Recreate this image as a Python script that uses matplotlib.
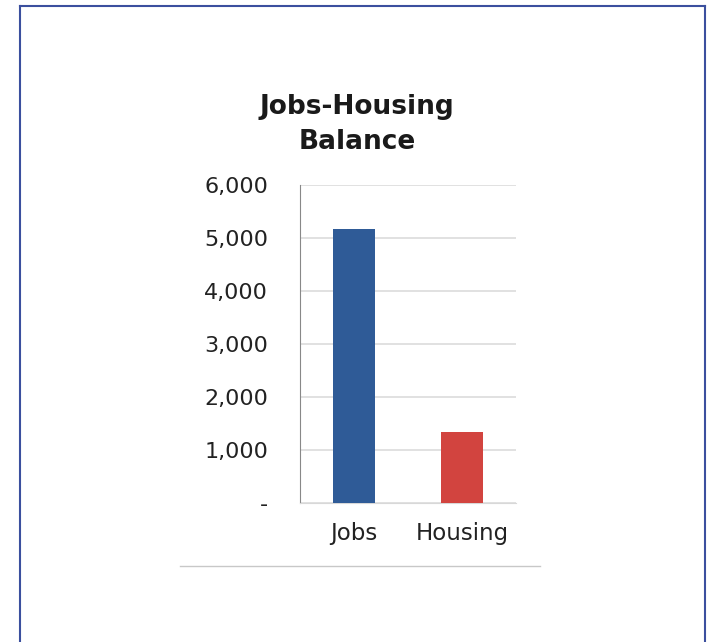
import matplotlib.pyplot as plt
from matplotlib.lines import Line2D

categories = ['Jobs', 'Housing']
values = [5170, 1340]
bar_colors = ['#2f5b97', '#d2443f']
yticks = [0, 1000, 2000, 3000, 4000, 5000, 6000]
ytick_labels = ['-', '1,000', '2,000', '3,000', '4,000', '5,000', '6,000']

plt.rcParams['font.family'] = ['DejaVu Sans']

W, H = 708, 642
fig = plt.figure(figsize=(W / 100, H / 100), dpi=100)

# blue frame (open at the bottom)
fig.add_artist(Line2D([20 / W, 20 / W], [0, 1 - 6 / H], color='#3b4f9e', lw=1.5))
fig.add_artist(Line2D([705 / W, 705 / W], [0, 1 - 6 / H], color='#3b4f9e', lw=1.5))
fig.add_artist(Line2D([20 / W, 705 / W], [1 - 6 / H, 1 - 6 / H], color='#3b4f9e', lw=1.5))

# thin gray line under the chart image
fig.add_artist(Line2D([180 / W, 540 / W], [1 - 566 / H, 1 - 566 / H], color='#c8c8c8', lw=1))

ax = fig.add_axes([300 / W, 1 - 503 / H, 216 / W, 318 / H])
x = range(len(categories))
ax.bar(x, values, width=0.39, color=bar_colors, zorder=3)
ax.set_xlim(-0.5, 1.5)
ax.set_ylim(0, 6000)

ax.set_yticks(yticks)
ax.set_yticklabels(ytick_labels, fontsize=16, color='#222222')
ax.set_xticks(list(x))
ax.set_xticklabels(categories, fontsize=16.5, color='#222222')
ax.tick_params(axis='y', length=0, pad=23)
ax.tick_params(axis='x', length=0, pad=14)

ax.grid(axis='y', color='#dcdcdc', lw=1.2, zorder=0)
for side in ['top', 'right']:
    ax.spines[side].set_visible(False)
ax.spines['left'].set_color('#888888')
ax.spines['left'].set_linewidth(0.8)
ax.spines['bottom'].set_color('#d8d8d8')

fig.text(357 / W, 1 - 107 / H, 'Jobs-Housing', ha='center', va='center',
         fontsize=19, fontweight='bold', color='#1a1a1a')
fig.text(357 / W, 1 - 142 / H, 'Balance', ha='center', va='center',
         fontsize=19, fontweight='bold', color='#1a1a1a')

fig.savefig('out.png', dpi=100)
